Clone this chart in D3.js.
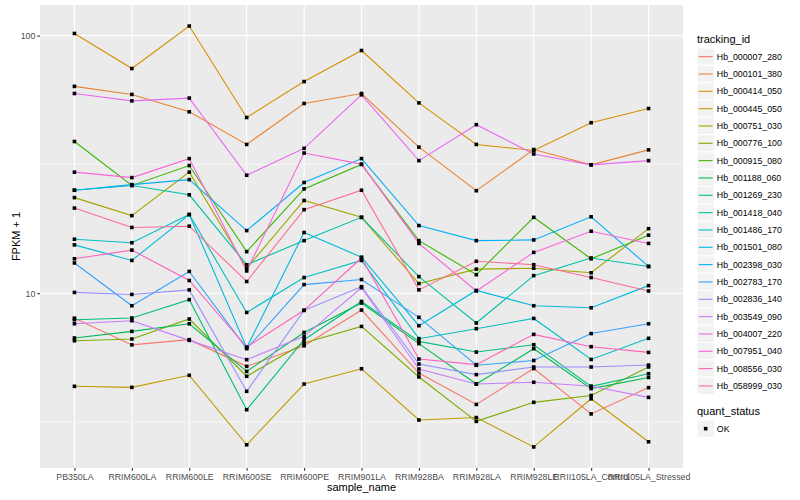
<!DOCTYPE html>
<html>
<head>
<meta charset="utf-8">
<script src="https://cdn.jsdelivr.net/npm/d3@7"></script>
<style>
  body { margin: 0; background: #fff; }
  text { font-family: "Liberation Sans", Arial, sans-serif; }
</style>
</head>
<body>
<script>
// sample names (x categories)
const samples = ['PB350LA', 'RRIM600LA', 'RRIM600LE', 'RRIM600SE', 'RRIM600PE', 'RRIM901LA',
  'RRIM928BA', 'RRIM928LA', 'RRIM928LE', 'RRII105LA_Control', 'RRII105LA_Stressed'];

const trackingIds = ['Hb_000007_280', 'Hb_000101_380', 'Hb_000414_050', 'Hb_000445_050', 'Hb_000751_030',
  'Hb_000776_100', 'Hb_000915_080', 'Hb_001188_060', 'Hb_001269_230', 'Hb_001418_040',
  'Hb_001486_170', 'Hb_001501_080', 'Hb_002398_030', 'Hb_002783_170', 'Hb_002836_140',
  'Hb_003549_090', 'Hb_004007_220', 'Hb_007951_040', 'Hb_008556_030', 'Hb_058999_030'];

// FPKM + 1 per sample, one array per tracking_id
const hb000007_280 = [8.0, 6.3, 6.6, 5.2, 6.25, 8.6, 4.9, 3.7, 5.1, 3.4, 4.3];
const hb000101_380 = [63.5, 59.1, 50.6, 37.8, 54.5, 59.6, 36.9, 25.0, 36.1, 31.5, 36.0];
const hb000414_050 = [101.9, 74.5, 108.9, 48.1, 66.3, 87.5, 54.8, 37.8, 35.8, 45.9, 52.1];
const hb000445_050 = [4.35, 4.31, 4.8, 2.58, 4.44, 5.09, 3.22, 3.29, 2.53, 3.89, 2.65];
const hb000751_030 = [23.5, 20.0, 29.5, 12.5, 22.9, 19.7, 10.9, 12.4, 12.5, 12.0, 17.8];
const hb000776_100 = [6.54, 6.64, 7.94, 4.76, 6.41, 7.43, 4.73, 3.18, 3.77, 4.01, 5.17];
const hb000915_080 = [38.8, 26.2, 31.3, 14.5, 25.4, 31.6, 16.0, 11.8, 19.7, 13.6, 16.8];
const hb001188_060 = [6.7, 7.11, 7.61, 4.97, 7.04, 9.16, 6.37, 4.44, 6.09, 4.26, 4.71];
const hb001269_230 = [7.89, 8.01, 9.44, 3.53, 6.6, 9.29, 6.5, 5.91, 6.31, 4.35, 4.87];
const hb001418_040 = [25.1, 26.2, 24.1, 12.9, 16.0, 19.7, 11.6, 7.66, 11.7, 13.7, 12.7];
const hb001486_170 = [16.2, 15.7, 20.2, 8.42, 11.5, 13.4, 6.66, 7.28, 7.98, 5.53, 6.68];
const hb001501_080 = [15.4, 13.4, 20.2, 6.14, 17.2, 13.8, 7.48, 10.25, 8.94, 8.78, 10.7];
const hb002398_030 = [25.1, 26.4, 27.6, 17.5, 26.9, 33.3, 18.3, 16.0, 16.1, 19.8, 12.7];
const hb002783_170 = [13.1, 8.94, 12.15, 6.09, 10.8, 11.3, 8.06, 5.25, 5.48, 6.97, 7.61];
const hb002836_140 = [10.07, 9.89, 10.3, 4.16, 8.58, 10.6, 5.31, 4.83, 5.17, 5.17, 5.26];
const hb003549_090 = [7.61, 7.82, 6.56, 5.52, 6.8, 10.5, 5.08, 4.44, 4.51, 4.35, 3.94];
const hb004007_220 = [59.6, 55.8, 57.2, 28.7, 36.5, 58.9, 32.7, 45.1, 34.7, 31.5, 32.7];
const hb007951_040 = [29.5, 28.1, 33.3, 12.2, 35.0, 31.7, 15.6, 10.2, 14.4, 17.4, 15.6];
const hb008556_030 = [13.6, 14.7, 11.2, 6.18, 8.58, 13.7, 5.55, 5.28, 6.92, 6.2, 5.89];
const hb058999_030 = [21.4, 18.0, 18.2, 11.1, 21.1, 25.1, 10.3, 13.3, 12.9, 11.5, 10.2];

const seriesValues = [hb000007_280, hb000101_380, hb000414_050, hb000445_050, hb000751_030,
  hb000776_100, hb000915_080, hb001188_060, hb001269_230, hb001418_040,
  hb001486_170, hb001501_080, hb002398_030, hb002783_170, hb002836_140,
  hb003549_090, hb004007_220, hb007951_040, hb008556_030, hb058999_030];

const yTicks = [10, 100];
const yMinor = [Math.pow(10, 0.5), Math.pow(10, 1.5)];

// ggplot hue palette for 20 levels
const palette = ['#F8766D', '#EA8331', '#D89000', '#C09B00', '#A3A500', '#7CAE00', '#39B600',
  '#00BB4E', '#00BF7D', '#00C1A3', '#00BFC4', '#00BAE0', '#00B0F6', '#35A2FF', '#9590FF',
  '#C77CFF', '#E76BF3', '#FA62DB', '#FF62BC', '#FF6C91'];

const width = 800, height = 500;
const panel = { left: 40, top: 5, right: 683, bottom: 468 };

const series = trackingIds.map((id, i) => ({
  id: id,
  points: samples.map((s, j) => ({ sample: s, value: seriesValues[i][j] }))
}));

const svg = d3.select('body')
  .append('svg')
  .attr('width', width)
  .attr('height', height)
  .attr('viewBox', [0, 0, width, height]);

const x = d3.scalePoint()
  .domain(samples)
  .range([panel.left, panel.right])
  .padding(0.6);

// log scale with 5% expansion like ggplot
const all = seriesValues.flat();
const lmin = Math.log10(d3.min(all)), lmax = Math.log10(d3.max(all));
const pad = (lmax - lmin) * 0.05;
const y = d3.scaleLog()
  .domain([Math.pow(10, lmin - pad), Math.pow(10, lmax + pad)])
  .range([panel.bottom, panel.top]);

const color = d3.scaleOrdinal().domain(trackingIds).range(palette);

// panel background
svg.append('rect')
  .attr('x', panel.left)
  .attr('y', panel.top)
  .attr('width', panel.right - panel.left)
  .attr('height', panel.bottom - panel.top)
  .attr('fill', '#EBEBEB');

const grid = svg.append('g');

grid.selectAll('line.minor')
  .data(yMinor)
  .join('line')
  .attr('x1', panel.left).attr('x2', panel.right)
  .attr('y1', d => y(d)).attr('y2', d => y(d))
  .attr('stroke', '#fff').attr('stroke-width', 0.55);

grid.selectAll('line.majory')
  .data(yTicks)
  .join('line')
  .attr('x1', panel.left).attr('x2', panel.right)
  .attr('y1', d => y(d)).attr('y2', d => y(d))
  .attr('stroke', '#fff').attr('stroke-width', 1.1);

grid.selectAll('line.majorx')
  .data(samples)
  .join('line')
  .attr('x1', d => x(d)).attr('x2', d => x(d))
  .attr('y1', panel.top).attr('y2', panel.bottom)
  .attr('stroke', '#fff').attr('stroke-width', 1.1);

// lines
const line = d3.line()
  .x(d => x(d.sample))
  .y(d => y(d.value));

svg.append('g')
  .selectAll('path')
  .data(series)
  .join('path')
  .attr('d', d => line(d.points))
  .attr('fill', 'none')
  .attr('stroke', d => color(d.id))
  .attr('stroke-width', 1.1);

// points (quant_status OK)
svg.append('g')
  .selectAll('rect')
  .data(series.flatMap(d => d.points))
  .join('rect')
  .attr('x', d => x(d.sample) - 1.8)
  .attr('y', d => y(d.value) - 1.8)
  .attr('width', 3.6)
  .attr('height', 3.6)
  .attr('fill', '#000');

// axes
const yAxis = svg.append('g')
  .attr('transform', `translate(${panel.left},0)`)
  .call(d3.axisLeft(y).tickValues(yTicks).tickFormat(d3.format('d')).tickSize(2.7).tickPadding(2));

const xAxis = svg.append('g')
  .attr('transform', `translate(0,${panel.bottom})`)
  .call(d3.axisBottom(x).tickSize(2.7).tickPadding(3));

[yAxis, xAxis].forEach(a => {
  a.select('.domain').remove();
  a.selectAll('line').attr('stroke', '#333').attr('stroke-width', 1.1);
  a.selectAll('text')
    .attr('fill', '#4D4D4D')
    .style('font-size', '8.8px')
    .style('font-family', '"Liberation Sans", Arial, sans-serif');
});

svg.append('text')
  .attr('x', (panel.left + panel.right) / 2)
  .attr('y', 491)
  .attr('text-anchor', 'middle')
  .style('font-size', '11px')
  .text('sample_name');

svg.append('text')
  .attr('transform', `translate(19.5,${(panel.top + panel.bottom) / 2}) rotate(-90)`)
  .attr('text-anchor', 'middle')
  .style('font-size', '11px')
  .text('FPKM + 1');

// legend: tracking_id
const legend = svg.append('g').attr('transform', 'translate(697,0)');

legend.append('text')
  .attr('x', 0)
  .attr('y', 43)
  .style('font-size', '11px')
  .text('tracking_id');

const keyH = 17.33;
const key = legend.selectAll('g.key')
  .data(trackingIds)
  .join('g')
  .attr('class', 'key')
  .attr('transform', (d, i) => `translate(0,${48 + i * keyH})`);

key.append('rect')
  .attr('width', 17.3)
  .attr('height', keyH)
  .attr('fill', '#F2F2F2')
  .attr('stroke', '#fff')
  .attr('stroke-width', 1);

key.append('line')
  .attr('x1', 1.7).attr('x2', 15.6)
  .attr('y1', keyH / 2).attr('y2', keyH / 2)
  .attr('stroke', d => color(d))
  .attr('stroke-width', 1.1);

key.append('text')
  .attr('x', 19.8)
  .attr('y', keyH / 2 + 3.1)
  .style('font-size', '8.8px')
  .text(d => d);

// legend: quant_status
legend.append('text')
  .attr('x', 0)
  .attr('y', 415)
  .style('font-size', '11px')
  .text('quant_status');

const ok = legend.append('g').attr('transform', 'translate(0,420)');

ok.append('rect')
  .attr('width', 17.3)
  .attr('height', keyH)
  .attr('fill', '#F2F2F2')
  .attr('stroke', '#fff');

ok.append('rect')
  .attr('x', 8.65 - 1.8)
  .attr('y', keyH / 2 - 1.8)
  .attr('width', 3.6)
  .attr('height', 3.6)
  .attr('fill', '#000');

ok.append('text')
  .attr('x', 19.8)
  .attr('y', keyH / 2 + 3.1)
  .style('font-size', '8.8px')
  .text('OK');
</script>
</body>
</html>
